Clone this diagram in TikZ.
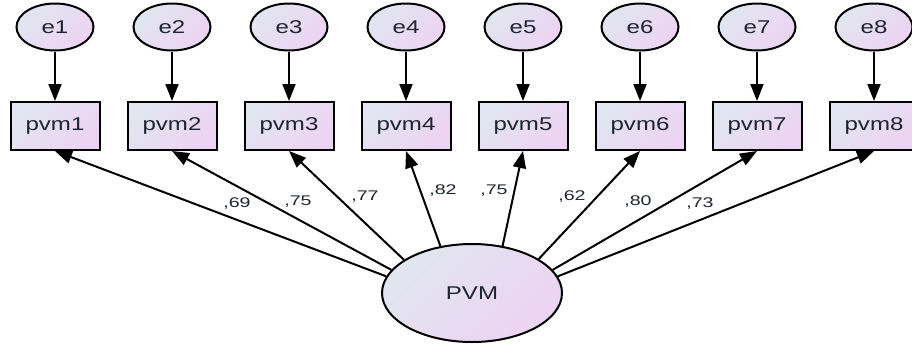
\documentclass[tikz,border=0pt]{standalone}
\usepackage{fontspec}
\setmainfont{Liberation Sans}
\newfontfamily\nodefont[FakeStretch=1.3]{Liberation Sans}
\newfontfamily\labfont[FakeStretch=1.4]{Liberation Sans}
\usetikzlibrary{shapes.geometric,arrows.meta}
\definecolor{gA}{HTML}{E1E6F0}
\definecolor{gB}{HTML}{EDD3F3}
\definecolor{txt}{HTML}{1E2430}
\tikzset{
  grad/.style={top color=gA, bottom color=gB, shading angle=45},
  errnode/.style={ellipse, draw=black, line width=2pt, grad, minimum width=77pt, minimum height=47pt, inner sep=0pt, font=\nodefont\fontsize{18.5}{20}\selectfont, text=txt},
  obsnode/.style={rectangle, draw=black, line width=2pt, grad, minimum width=89pt, minimum height=48pt, inner sep=0pt, font=\nodefont\fontsize{18.5}{20}\selectfont, text=txt},
  latnode/.style={ellipse, draw=black, line width=2pt, grad, minimum width=180pt, minimum height=98pt, inner sep=0pt, font=\nodefont\fontsize{18.5}{20}\selectfont, text=txt},
  conn/.style={line width=2pt, -{Triangle[length=17pt,width=13pt]}},
  lab/.style={font=\labfont\fontsize{14}{16}\selectfont, text=txt, inner sep=0pt}
}
\begin{document}
\begin{tikzpicture}[x=1pt,y=-1pt]
\useasboundingbox (0,0) rectangle (912,349);
\foreach \i in {1,...,8}{
  \pgfmathsetmacro{\xx}{55+117*(\i-1)}
  \node[errnode] (e\i) at (\xx,27) {e\i};
  \node[obsnode] (p\i) at (\xx,126) {pvm\i};
  \draw[conn] (e\i) -- (p\i.north);
}
\node[latnode] (L) at (472,293) {PVM};
\foreach \i/\a in {1/169,2/164,3/154,4/124,5/57,6/27,7/16.5,8/11}{
  \draw[conn] (L.\a) -- (p\i.south);
}
\node[lab] (l1) at (237,204) {,69};
\node[lab] (l2) at (298,202) {,75};
\node[lab] (l3) at (365,197) {,77};
\node[lab] (l4) at (443,191) {,82};
\node[lab] (l5) at (494,191) {,75};
\node[lab] (l6) at (572,197) {,62};
\node[lab] (l7) at (638,202) {,80};
\node[lab] (l8) at (700,204) {,73};
\end{tikzpicture}
\end{document}
